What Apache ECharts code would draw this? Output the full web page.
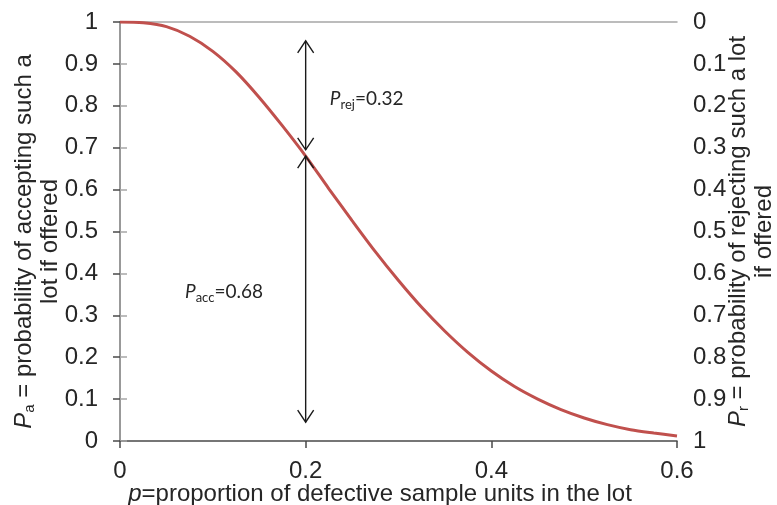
<!DOCTYPE html>
<html>
<head>
<meta charset="utf-8">
<script src="https://cdn.jsdelivr.net/npm/echarts@6/dist/echarts.min.js"></script>
<style>
  html, body { margin: 0; padding: 0; background: #fff; }
  #chart { width: 777px; height: 505px; }
</style>
</head>
<body>
<div id="chart"></div>
<script>
// Operating characteristic curve: proportion defective vs. probability of acceptance
const pValues = [0, 0.025, 0.05, 0.075, 0.1, 0.125, 0.15, 0.175, 0.2, 0.225, 0.25, 0.275, 0.3,
                 0.325, 0.35, 0.375, 0.4, 0.425, 0.45, 0.475, 0.5, 0.525, 0.55, 0.575, 0.6];
const paValues = [1, 0.998, 0.989, 0.966, 0.930, 0.881, 0.820, 0.752, 0.68, 0.602, 0.526, 0.452, 0.383,
                  0.319, 0.262, 0.211, 0.167, 0.130, 0.100, 0.075, 0.055, 0.039, 0.027, 0.019, 0.012];

// Double-headed arrows at p = 0.2: [p, from, to]
const arrows = [
  [0.2, 0.955, 0.695],
  [0.2, 0.68, 0.045]
];

// Annotation labels: [p, Pa, subscript, value]
const notes = [
  [0.226, 0.816, 'rej', '0.32'],
  [0.070, 0.356, 'acc', '0.68']
];

const leftTicks = ['0', '0.1', '0.2', '0.3', '0.4', '0.5', '0.6', '0.7', '0.8', '0.9', '1'];
const rightTicks = ['0', '0.1', '0.2', '0.3', '0.4', '0.5', '0.6', '0.7', '0.8', '0.9', '1'];
const xTicks = ['0', '0.2', '0.4', '0.6'];

const tickFont = 'Liberation Sans, Arial, sans-serif';
const noteFont = 'Lato, Carlito, sans-serif';
const textColor = '#262626';
const darkAxis = '#4a4a4a';
const lightAxis = '#a6a6a6';

const chart = echarts.init(document.getElementById('chart'));

function fmtTick(list, v) {
  const i = Math.round(v * 10);
  return list[i] !== undefined ? list[i] : '';
}

const titleRich = {
  i: { fontStyle: 'italic', fontSize: 24, fontFamily: tickFont, color: textColor, lineHeight: 26 },
  s: { fontSize: 15, fontFamily: tickFont, color: textColor, verticalAlign: 'bottom', lineHeight: 15 },
  t: { fontSize: 24, fontFamily: tickFont, color: textColor, lineHeight: 26 }
};

chart.setOption({
  animation: false,
  grid: { left: 120, right: 100, top: 22, bottom: 64, containLabel: false, outerBoundsMode: 'none' },
  xAxis: [{
    type: 'value',
    min: 0, max: 0.6, interval: 0.2,
    position: 'bottom',
    name: '{i|p}{t|=proportion of defective sample units in the lot}',
    nameLocation: 'middle',
    nameGap: 40,
    nameMoveOverlap: false,
    nameTextStyle: { rich: titleRich, padding: [0, 37, 0, 0] },
    axisLine: { show: true, lineStyle: { color: darkAxis, width: 1.5 } },
    axisTick: { show: true, length: 7, lineStyle: { color: darkAxis, width: 1.5 } },
    axisLabel: {
      fontSize: 24, fontFamily: tickFont, color: textColor, margin: 18,
      formatter: v => xTicks[Math.round(v * 5)] || ''
    },
    splitLine: { show: false }
  }, {
    type: 'value',
    min: 0, max: 0.6,
    position: 'top',
    axisLine: { show: true, onZero: false, lineStyle: { color: lightAxis, width: 1.5 } },
    axisTick: { show: false },
    axisLabel: { show: false },
    splitLine: { show: false }
  }],
  yAxis: [{
    type: 'value',
    min: 0, max: 1, interval: 0.1,
    position: 'left',
    name: '{i|P}{s|a}{t| = probability of accepting such a}\n{t|lot if offered}',
    nameLocation: 'middle',
    nameGap: 57,
    nameMoveOverlap: false,
    nameRotate: 90,
    nameTextStyle: { rich: titleRich, align: 'center', padding: [0, 20, 0, 0] },
    axisLine: { show: true, lineStyle: { color: darkAxis, width: 1.5 } },
    axisTick: { show: true, length: 7, lineStyle: { color: darkAxis, width: 1.5 } },
    axisLabel: {
      fontSize: 24, fontFamily: tickFont, color: textColor, margin: 22,
      formatter: v => fmtTick(leftTicks, v)
    },
    splitLine: { show: false }
  }, {
    type: 'value',
    min: 0, max: 1, interval: 0.1,
    inverse: true,
    position: 'right',
    name: '{i|P}{s|r}{t| = probability of rejecting such a lot}\n{t|if offered}',
    nameLocation: 'middle',
    nameGap: 48,
    nameMoveOverlap: false,
    nameRotate: 90,
    nameTextStyle: { rich: titleRich, align: 'center' },
    axisLine: { show: true, lineStyle: { color: lightAxis, width: 1.5 } },
    axisTick: { show: true, length: 7, lineStyle: { color: lightAxis, width: 1.5 } },
    axisLabel: {
      fontSize: 24, fontFamily: tickFont, color: textColor, margin: 16,
      formatter: v => fmtTick(rightTicks, v)
    },
    splitLine: { show: false }
  }],
  series: [{
    name: 'Pa',
    type: 'line',
    xAxisIndex: 0, yAxisIndex: 0,
    data: pValues.map((p, i) => [p, paValues[i]]),
    smooth: 0.3,
    showSymbol: false,
    lineStyle: { color: '#c0504d', width: 3 },
    z: 3
  }, {
    name: 'arrows',
    type: 'custom',
    xAxisIndex: 0, yAxisIndex: 0,
    data: arrows,
    renderItem: function (params, api) {
      const a = api.coord([api.value(0), api.value(1)]);
      const b = api.coord([api.value(0), api.value(2)]);
      const dir = b[1] > a[1] ? 1 : -1;
      const hw = 8, hh = 12;
      const stroke = { stroke: '#1a1a1a', lineWidth: 1.4, fill: null };
      return {
        type: 'group',
        children: [
          { type: 'line', shape: { x1: a[0], y1: a[1], x2: b[0], y2: b[1] }, style: stroke },
          { type: 'polyline', shape: { points: [[a[0] - hw, a[1] + dir * hh], [a[0], a[1]], [a[0] + hw, a[1] + dir * hh]] }, style: stroke },
          { type: 'polyline', shape: { points: [[b[0] - hw, b[1] - dir * hh], [b[0], b[1]], [b[0] + hw, b[1] - dir * hh]] }, style: stroke }
        ]
      };
    },
    z: 4
  }, {
    name: 'notes',
    type: 'custom',
    xAxisIndex: 0, yAxisIndex: 0,
    data: notes,
    renderItem: function (params, api) {
      const pt = api.coord([api.value(0), api.value(1)]);
      const d = notes[params.dataIndex];
      return {
        type: 'text',
        x: pt[0], y: pt[1],
        style: {
          text: '{i|P}{s|' + d[2] + '}{t|=' + d[3] + '}',
          verticalAlign: 'middle',
          align: 'left',
          rich: {
            i: { fontStyle: 'italic', fontSize: 19, fontFamily: noteFont, fill: textColor, lineHeight: 24 },
            s: { fontSize: 13, fontFamily: noteFont, fill: textColor, verticalAlign: 'bottom', lineHeight: 12 },
            t: { fontSize: 19, fontFamily: noteFont, fill: textColor, lineHeight: 24 }
          }
        }
      };
    },
    z: 5
  }]
});
</script>
</body>
</html>
